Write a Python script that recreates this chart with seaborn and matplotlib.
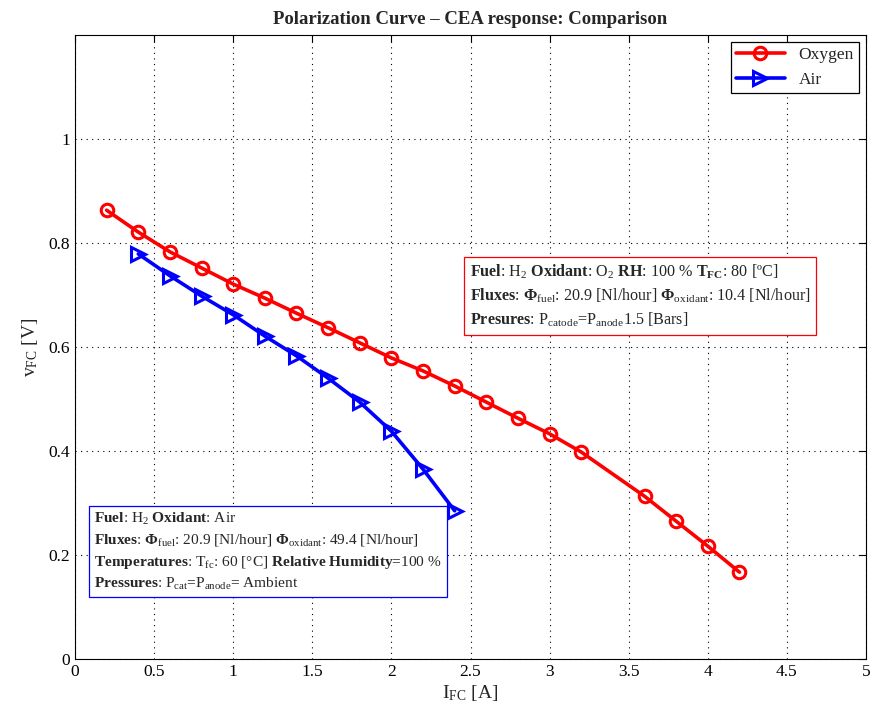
import matplotlib
matplotlib.use("Agg")
import matplotlib.pyplot as plt
import seaborn as sns
import pandas as pd

oxy_current = [0.2, 0.4, 0.6, 0.8, 1.0, 1.2, 1.4, 1.6, 1.8, 2.0, 2.2, 2.4, 2.6, 2.8, 3.0, 3.2, 3.6, 3.8, 4.0, 4.2]
oxy_voltage = [0.863, 0.821, 0.783, 0.752, 0.721, 0.694, 0.665, 0.637, 0.608, 0.579, 0.554, 0.525, 0.494, 0.463, 0.433, 0.398, 0.313, 0.265, 0.217, 0.167]
air_current = [0.4, 0.6, 0.8, 1.0, 1.2, 1.4, 1.6, 1.8, 2.0, 2.2, 2.4]
air_voltage = [0.779, 0.737, 0.698, 0.662, 0.621, 0.583, 0.540, 0.494, 0.438, 0.365, 0.285]
xticks = [0, 0.5, 1, 1.5, 2, 2.5, 3, 3.5, 4, 4.5, 5]
xticklabels = ["0", "0.5", "1", "1.5", "2", "2.5", "3", "3.5", "4", "4.5", "5"]
yticks = [0, 0.2, 0.4, 0.6, 0.8, 1.0]
yticklabels = ["0", "0.2", "0.4", "0.6", "0.8", "1"]

sns.set_style("white")
plt.rcParams["font.family"] = ["Liberation Serif", "DejaVu Serif"]
plt.rcParams["mathtext.fontset"] = "custom"
plt.rcParams["mathtext.rm"] = "Liberation Serif"
plt.rcParams["mathtext.it"] = "Liberation Serif:italic"
plt.rcParams["mathtext.bf"] = "Liberation Serif:bold"

fig = plt.figure(figsize=(8.71, 7.18), dpi=100)
ax = fig.add_axes([75 / 871, 1 - 659 / 718, (866 - 75) / 871, (659 - 35) / 718])

oxy = pd.DataFrame({"I": oxy_current, "V": oxy_voltage})
air = pd.DataFrame({"I": air_current, "V": air_voltage})

sns.lineplot(data=oxy, x="I", y="V", ax=ax, color="red", lw=2.6, marker="o",
             markersize=9, markerfacecolor="none", markeredgecolor="red",
             markeredgewidth=2.2, label="Oxygen", sort=False)
sns.lineplot(data=air, x="I", y="V", ax=ax, color="blue", lw=2.6, marker=">",
             markersize=10, markerfacecolor="none", markeredgecolor="blue",
             markeredgewidth=2.2, label="Air", sort=False)

ax.set_xlim(0, 5)
ax.set_ylim(0, 1.2)
ax.set_xticks(xticks)
ax.set_xticklabels(xticklabels)
ax.set_yticks(yticks)
ax.set_yticklabels(yticklabels)
ax.tick_params(direction="in", length=5, labelsize=12.5, top=True, right=True, colors="black")
ax.grid(True, linestyle=(0, (1, 4)), color="black", lw=0.8)
for s in ax.spines.values():
    s.set_color("black")
    s.set_linewidth(0.8)

ax.set_xlabel(r"I$_{\rm FC}$ [A]", fontsize=14, labelpad=2)
ax.set_ylabel(r"v$_{\rm FC}$ [V]", fontsize=14, labelpad=6)
ax.set_title("Polarization Curve \u2013 CEA response: Comparison", fontsize=13.5, fontweight="bold", pad=8)

leg = ax.legend(loc="upper right", fontsize=12.5, frameon=True, fancybox=False,
                edgecolor="black", framealpha=1, borderpad=0.3, handlelength=2.8,
                borderaxespad=0.4)
leg.get_frame().set_linewidth(0.9)

red_text = ("$\\mathbf{Fuel}$: H$_2$ $\\mathbf{Oxidant}$: O$_2$ $\\mathbf{RH}$: 100 % $\\mathbf{T_{FC}}$: 80 [\u00baC]\n"
            "$\\mathbf{Fluxes}$: $\\mathbf{\\Phi}_{\\rm fuel}$: 20.9 [Nl/hour] $\\mathbf{\\Phi}_{\\rm oxidant}$: 10.4 [Nl/hour]\n"
            "$\\mathbf{Presures}$: P$_{\\rm catode}$=P$_{\\rm anode}$1.5 [Bars]")
blue_text = ("$\\mathbf{Fuel}$: H$_2$ $\\mathbf{Oxidant}$: Air\n"
             "$\\mathbf{Fluxes}$: $\\mathbf{\\Phi}_{\\rm fuel}$: 20.9 [Nl/hour] $\\mathbf{\\Phi}_{\\rm oxidant}$: 49.4 [Nl/hour]\n"
             "$\\mathbf{Temperatures}$: T$_{\\rm fc}$: 60 [\u00b0C] $\\mathbf{Relative\\ Humidity}$=100 %\n"
             "$\\mathbf{Pressures}$: P$_{\\rm cat}$=P$_{\\rm anode}$= Ambient")

ax.text(2.495, 0.763, red_text, fontsize=11.6, va="top", ha="left", linespacing=1.42,
        bbox=dict(boxstyle="square,pad=0.35", facecolor="white", edgecolor="red", lw=0.9))
ax.text(0.122, 0.284, blue_text, fontsize=11.1, va="top", ha="left", linespacing=1.43,
        bbox=dict(boxstyle="square,pad=0.35", facecolor="white", edgecolor="blue", lw=0.9))

fig.savefig("out.png", dpi=100)
